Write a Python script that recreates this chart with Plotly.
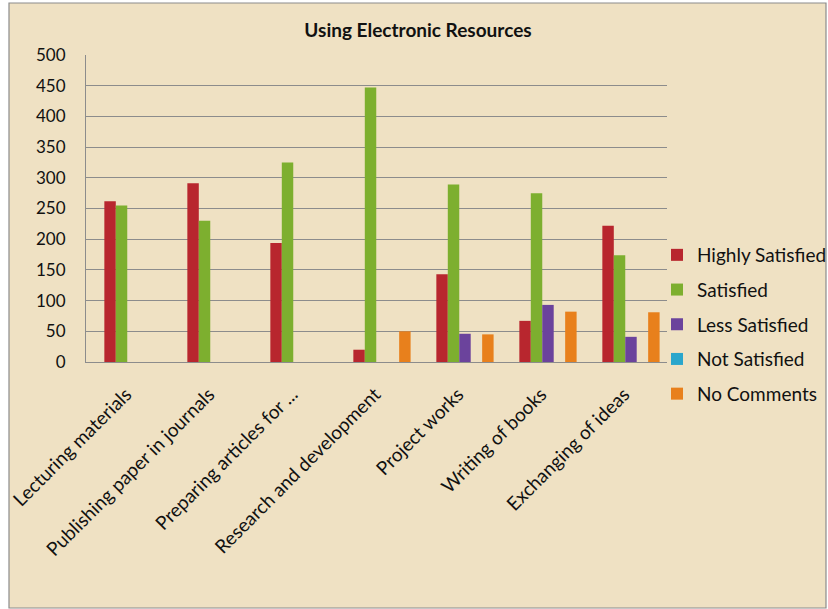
import plotly.graph_objects as go

categories = ["Lecturing materials", "Publishing paper in journals", "Preparing articles for ...",
              "Research and development", "Project works", "Writing of books", "Exchanging of ideas"]
highly_satisfied = [262, 291, 194, 20, 143, 67, 222]
satisfied = [255, 230, 325, 447, 289, 275, 174]
less_satisfied = [0, 0, 0, 0, 46, 93, 41]
not_satisfied = [0, 0, 0, 0, 0, 0, 0]
no_comments = [0, 0, 0, 50, 45, 82, 81]
series_names = ["Highly Satisfied", "Satisfied", "Less Satisfied", "Not Satisfied", "No Comments"]
series_colors = ["#B8262E", "#7DAF2F", "#6B439C", "#2AA6CC", "#E8801C"]
y_ticks = [0, 50, 100, 150, 200, 250, 300, 350, 400, 450, 500]

FONT = "Lato"
series_values = [highly_satisfied, satisfied, less_satisfied, not_satisfied, no_comments]

fig = go.Figure()
for i, (name, vals) in enumerate(zip(series_names, series_values)):
    fig.add_trace(go.Bar(
        x=list(range(len(categories))), y=vals, name=name,
        marker=dict(color=series_colors[i], line=dict(width=0)),
        legendgroup=name,
    ))

W, H = 828, 609
L, R, T, B = 86, 161, 55, 247
pw, ph = W - L - R, H - T - B

def px_x(x):
    return (x - L) / pw

def px_y(y):
    return (H - B - y) / ph

fig.add_shape(type="rect", xref="paper", yref="paper",
              x0=px_x(9), x1=px_x(826), y0=px_y(608), y1=px_y(3),
              fillcolor="#EFE1C3", line=dict(color="#8C8C8C", width=1.2), layer="below")

tick_text = [c + "\u00a0\u00a0" for c in categories]

fig.update_layout(
    width=W, height=H,
    margin=dict(l=L, r=R, t=T, b=B, autoexpand=False),
    paper_bgcolor="white",
    plot_bgcolor="rgba(0,0,0,0)",
    barmode="group", bargap=0.31, bargroupgap=0,
    font=dict(family=FONT, color="#111111"),
    title=dict(text="<b>Using Electronic Resources</b>", x=418 / W, xref="container",
               y=1 - 30 / H, yref="container", yanchor="middle", xanchor="center",
               font=dict(family=FONT, size=19, color="#111111")),
    showlegend=True,
    legend=dict(x=657 / W, xref="container", xanchor="left",
                y=1 - 236 / H, yref="container", yanchor="top",
                font=dict(family=FONT, size=19, color="#111111"),
                tracegroupgap=7, itemwidth=30, bgcolor="rgba(0,0,0,0)",
                traceorder="grouped"),
    xaxis=dict(tickmode="array", tickvals=list(range(len(categories))), ticktext=tick_text,
               range=[-0.566, 6.434], tickangle=-45, showgrid=False, zeroline=False,
               showline=True, linecolor="#8C8C8C", linewidth=1,
               tickfont=dict(family=FONT, size=19, color="#111111"), ticks="",
               ticklabelstandoff=6),
    yaxis=dict(range=[0, 500], tickmode="array", tickvals=y_ticks,
               showgrid=True, gridcolor="#8C8C8C", gridwidth=1,
               showline=True, linecolor="#8C8C8C", linewidth=1, zeroline=False,
               tickfont=dict(family=FONT, size=17, color="#111111"),
               ticks="", ticklabelstandoff=16),
)

fig.write_html("out.html", config={"displayModeBar": False},
               post_script="document.body.style.margin='0';document.body.style.overflow='hidden';")
